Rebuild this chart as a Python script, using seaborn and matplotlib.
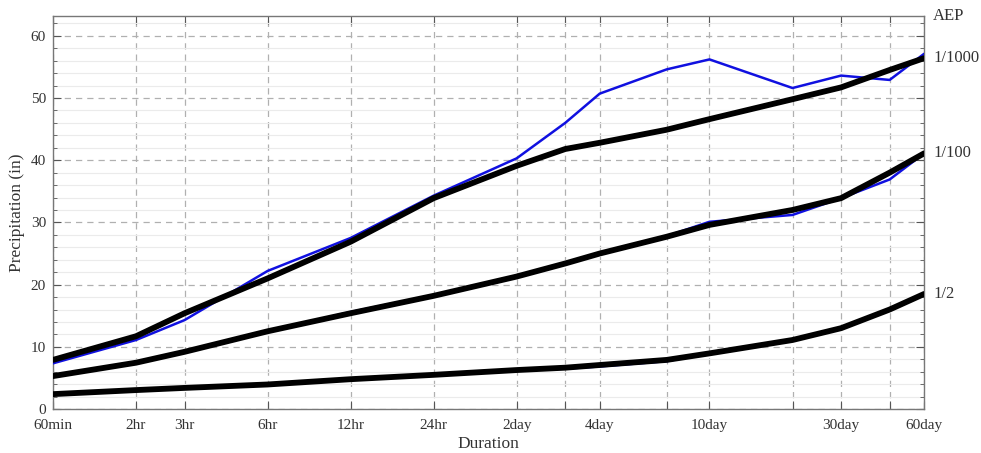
import seaborn as sns
import matplotlib.pyplot as plt
from matplotlib.ticker import MultipleLocator, NullLocator, FixedLocator
from matplotlib.transforms import blended_transform_factory

# durations in hours
hours = [1, 2, 3, 6, 12, 24, 48, 72, 96, 168, 240, 480, 720, 1080, 1440]
tick_labels = ["60min", "2hr", "3hr", "6hr", "12hr", "24hr", "2day", "",
               "4day", "", "10day", "", "30day", "", "60day"]

# fitted frequency curves (black)
fit_1000 = [7.9, 11.7, 15.4, 21.0, 26.9, 33.9, 39.1, 41.8, 42.8, 44.9, 46.6, 49.8, 51.7, 54.5, 56.4]
fit_100 = [5.3, 7.45, 9.2, 12.5, 15.4, 18.2, 21.3, 23.4, 25.0, 27.7, 29.6, 32.0, 33.9, 38.0, 41.1]
fit_2 = [2.4, 3.05, 3.4, 3.95, 4.8, 5.5, 6.27, 6.65, 7.08, 7.9, 8.95, 11.1, 13.0, 16.0, 18.5]

# raw estimates (blue)
raw_1000 = [7.35, 11.1, 14.3, 22.2, 27.5, 34.3, 40.3, 46.0, 50.7, 54.6, 56.2, 51.6, 53.6, 52.9, 57.1]
raw_100 = [5.2, 7.4, 9.2, 12.5, 15.6, 18.3, 21.3, 23.4, 25.1, 27.8, 30.1, 31.2, 33.9, 36.9, 41.1]
raw_2 = [2.4, 3.0, 3.4, 3.95, 4.8, 5.5, 6.2, 6.5, 6.85, 7.7, 8.95, 11.1, 13.0, 16.0, 18.5]

aep_labels = ["1/1000", "1/100", "1/2"]

sns.set_style("ticks")
plt.rcParams['font.family'] = ['Liberation Serif', 'DejaVu Serif']

fig = plt.figure(figsize=(9.81, 4.53), dpi=100)
ax = fig.add_axes([0.054, 0.097, 0.888, 0.868])
ax.set_xscale('log')

for raw in [raw_1000, raw_100, raw_2]:
    sns.lineplot(x=hours, y=raw, ax=ax, color="#1010e0", lw=1.8, zorder=3)
for fit in [fit_1000, fit_100, fit_2]:
    sns.lineplot(x=hours, y=fit, ax=ax, color="black", lw=4.2, zorder=4,
                 solid_capstyle='round')

ax.set_xlim(hours[0], hours[-1])
ax.set_ylim(0, 63.2)

ax.xaxis.set_major_locator(FixedLocator(hours))
ax.xaxis.set_minor_locator(NullLocator())
ax.set_xticklabels(tick_labels)
ax.yaxis.set_major_locator(MultipleLocator(10))
ax.yaxis.set_minor_locator(MultipleLocator(2))

ax.grid(which='major', axis='both', color='#b0b0b0', ls=(0, (5, 4)), lw=0.9)
ax.grid(which='minor', axis='y', color='#ebebeb', ls='-', lw=0.8)
ax.set_axisbelow(True)

ax.tick_params(which='both', direction='in', top=True, right=True,
               colors='#555555', labelcolor='#333333', labelsize=11)
ax.tick_params(which='major', length=6)
ax.tick_params(which='minor', length=3)
ax.tick_params(axis='x', pad=7)
ax.tick_params(axis='y', pad=5)
for side in ax.spines.values():
    side.set_color('#777777')
    side.set_linewidth(1.0)

ax.set_xlabel("Duration", fontsize=12.5, color='#333333', labelpad=3)
ax.set_ylabel("Precipitation (in)", fontsize=12.5, color='#333333', labelpad=4)

trans = blended_transform_factory(ax.transAxes, ax.transData)
ax.text(1.01, 63.2, "AEP", transform=trans, fontsize=12, color='#333333', va='center')
for lab, fit in zip(aep_labels, [fit_1000, fit_100, fit_2]):
    ax.text(1.011, fit[-1], lab, transform=trans, fontsize=12, color='#333333', va='center')

plt.savefig("out.png", dpi=100)
